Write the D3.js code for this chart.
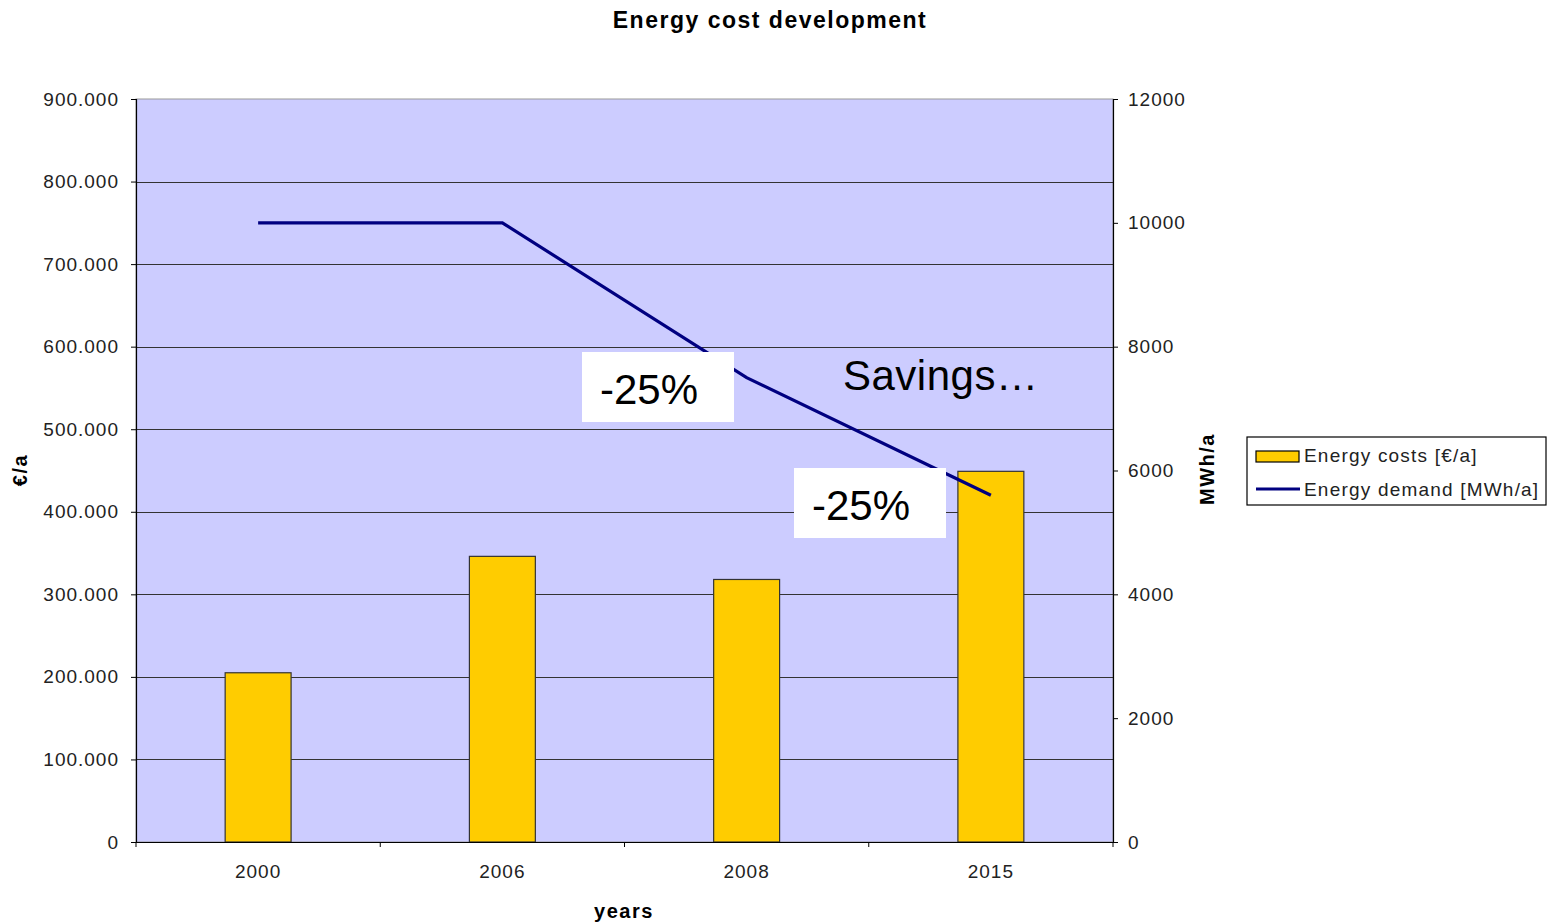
<!DOCTYPE html>
<html>
<head>
<meta charset="utf-8">
<script src="https://cdn.jsdelivr.net/npm/d3@7"></script>
<style>
  body { margin: 0; background: #fff; }
  text { font-family: "Liberation Sans", Arial, sans-serif; }
</style>
</head>
<body>
<div id="chart"></div>
<script>
// data
var years = ["2000", "2006", "2008", "2015"];
var costs = [205000, 346000, 318000, 449000];     // €/a
var demand = [10000, 10000, 7500, 5600];          // MWh/a
var costTicks = [0, 100000, 200000, 300000, 400000, 500000, 600000, 700000, 800000, 900000];
var demandTicks = [0, 2000, 4000, 6000, 8000, 10000, 12000];

var W = 1552, H = 924;
var margin = {top: 99, right: 439, bottom: 82, left: 136},
    width = W - margin.left - margin.right,
    height = H - margin.top - margin.bottom;

var svg = d3.select("#chart")
  .append("svg")
    .attr("width", W)
    .attr("height", H);

var g = svg.append("g")
    .attr("transform", "translate(" + margin.left + "," + margin.top + ")");

var x = d3.scaleBand().domain(years).range([0, width]).padding(0);
var yL = d3.scaleLinear().domain([0, 900000]).range([height, 0]);
var yR = d3.scaleLinear().domain([0, 12000]).range([height, 0]);

// plot background
g.append("rect")
  .attr("width", width).attr("height", height)
  .attr("fill", "#ccccff")
  .attr("stroke", "#999").attr("stroke-width", 1);

// gridlines
g.selectAll(".grid")
  .data(costTicks.slice(1, -1))
  .enter().append("line")
    .attr("x1", 0).attr("x2", width)
    .attr("y1", function(d) { return Math.round(yL(d)) + 0.5; })
    .attr("y2", function(d) { return Math.round(yL(d)) + 0.5; })
    .attr("stroke", "#333").attr("stroke-width", 1.2);

// bars
var bw = x.bandwidth() * 0.27;
g.selectAll(".bar")
  .data(costs)
  .enter().append("rect")
    .attr("x", function(d, i) { return x(years[i]) + x.bandwidth() / 2 - bw / 2; })
    .attr("y", function(d) { return yL(d); })
    .attr("width", bw)
    .attr("height", function(d) { return height - yL(d); })
    .attr("fill", "#ffcc00")
    .attr("stroke", "#333").attr("stroke-width", 1.2);

// demand line
var line = d3.line()
  .x(function(d, i) { return x(years[i]) + x.bandwidth() / 2; })
  .y(function(d) { return yR(d); });
g.append("path")
  .datum(demand)
  .attr("d", line)
  .attr("fill", "none")
  .attr("stroke", "#000080")
  .attr("stroke-width", 3.2);

// axes
var leftAxis = d3.axisLeft(yL)
  .tickValues(costTicks)
  .tickSize(5)
  .tickFormat(function(d) { return d === 0 ? "0" : d3.format(".3f")(d / 1000); });
var gl = g.append("g").call(leftAxis);

var rightAxis = d3.axisRight(yR).tickValues(demandTicks).tickSize(5).tickFormat(d3.format("d"));
var gr = g.append("g").attr("transform", "translate(" + width + ",0)").call(rightAxis);

var bottomAxis = d3.axisBottom(x).tickSize(0);
var gb = g.append("g").attr("transform", "translate(0," + height + ")").call(bottomAxis);
// band-boundary ticks
gb.selectAll(".bt")
  .data(years.concat(["end"]))
  .enter().append("line")
    .attr("x1", function(d, i) { return i * x.step(); })
    .attr("x2", function(d, i) { return i * x.step(); })
    .attr("y1", 0).attr("y2", 5)
    .attr("stroke", "#000");

[gl, gr, gb].forEach(function(a) {
  a.selectAll(".domain").attr("stroke", "#000").attr("stroke-width", 1.2);
  a.selectAll(".tick line").attr("stroke", "#000");
  a.selectAll("text")
    .attr("font-size", 19)
    .attr("letter-spacing", 1)
    .attr("fill", "#222")
    .style("font-family", "'Liberation Sans', Arial, sans-serif");
});
gl.selectAll("text").attr("x", -17).attr("dx", null);
gr.selectAll("text").attr("x", 15);
gb.selectAll("text").attr("y", 23);

// title and axis labels
svg.append("text")
  .attr("x", 770).attr("y", 28)
  .attr("text-anchor", "middle")
  .attr("font-size", 23).attr("font-weight", "bold")
  .attr("letter-spacing", 1.5)
  .text("Energy cost development");

svg.append("text")
  .attr("transform", "translate(27,470) rotate(-90)")
  .attr("text-anchor", "middle")
  .attr("font-size", 20).attr("font-weight", "bold")
  .attr("letter-spacing", 1.5)
  .text("€/a");

svg.append("text")
  .attr("transform", "translate(1214,469) rotate(-90)")
  .attr("text-anchor", "middle")
  .attr("font-size", 20).attr("font-weight", "bold")
  .attr("letter-spacing", 1.5)
  .text("MWh/a");

svg.append("text")
  .attr("x", 624).attr("y", 918)
  .attr("text-anchor", "middle")
  .attr("font-size", 20).attr("font-weight", "bold")
  .attr("letter-spacing", 1.5)
  .text("years");

// annotations
var notes = [
  {x: 582, y: 352, t: "-25%"},
  {x: 794, y: 468, t: "-25%"}
];
notes.forEach(function(n) {
  svg.append("rect")
    .attr("x", n.x).attr("y", n.y).attr("width", 152).attr("height", 70)
    .attr("fill", "#fff");
  svg.append("text")
    .attr("x", n.x + 18).attr("y", n.y + 52)
    .attr("font-size", 42)
    .text(n.t);
});
svg.append("text")
  .attr("x", 843).attr("y", 390)
  .attr("font-size", 42)
  .attr("letter-spacing", 0.5)
  .text("Savings…");

// legend
var lg = svg.append("g").attr("transform", "translate(1247,437)");
lg.append("rect")
  .attr("width", 299).attr("height", 68)
  .attr("fill", "#fff").attr("stroke", "#000").attr("stroke-width", 1.2);
lg.append("rect")
  .attr("x", 9).attr("y", 14).attr("width", 43).attr("height", 11)
  .attr("fill", "#ffcc00").attr("stroke", "#000").attr("stroke-width", 1.2);
lg.append("line")
  .attr("x1", 9).attr("x2", 53).attr("y1", 52).attr("y2", 52)
  .attr("stroke", "#000080").attr("stroke-width", 3.2);
lg.selectAll(".lt")
  .data(["Energy costs [€/a]", "Energy demand [MWh/a]"])
  .enter().append("text")
    .attr("x", 57)
    .attr("y", function(d, i) { return 25 + i * 34; })
    .attr("font-size", 19)
    .attr("letter-spacing", 1.2)
    .attr("fill", "#222")
    .text(function(d) { return d; });
</script>
</body>
</html>
